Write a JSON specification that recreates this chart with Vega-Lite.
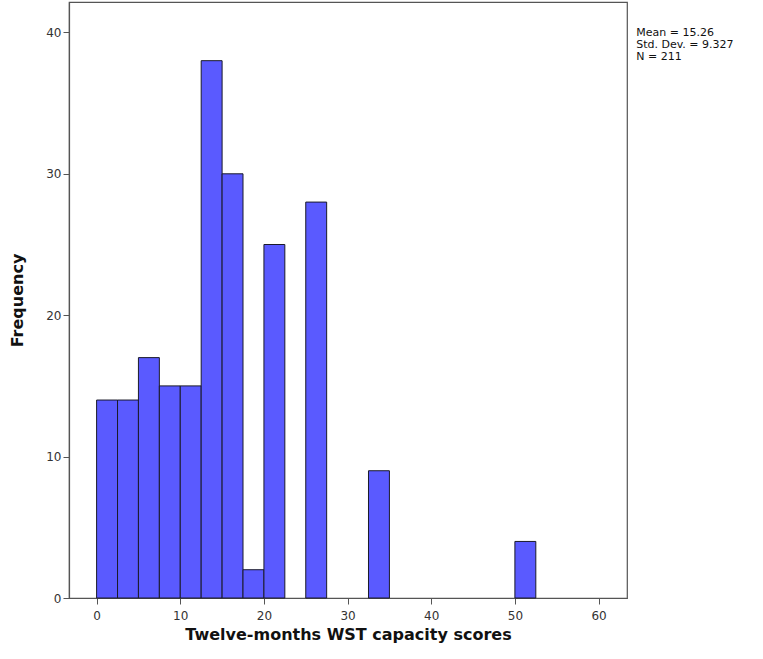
{
  "$schema": "https://vega.github.io/schema/vega-lite/v6.json",
  "width": 558,
  "height": 596,
  "padding": {"left": 69, "top": 2, "right": 136, "bottom": 61},
  "autosize": {"type": "none"},
  "config": {
    "view": {"stroke": "#555555", "strokeWidth": 1.2},
    "font": "DejaVu Sans",
    "axis": {"domainColor": "#555555", "tickColor": "#555555", "labelColor": "#333333", "labelFont": "DejaVu Sans", "labelFontSize": 12, "titleFont": "DejaVu Sans", "titleFontSize": 16, "titleFontWeight": "bold", "titleColor": "#111111", "grid": false, "tickSize": 6, "domainWidth": 1.2}
  },
  "layer": [
    {
      "data": {"values": [
        {"bin_start": 0, "bin_end": 2.5, "count": 14},
        {"bin_start": 2.5, "bin_end": 5, "count": 14},
        {"bin_start": 5, "bin_end": 7.5, "count": 17},
        {"bin_start": 7.5, "bin_end": 10, "count": 15},
        {"bin_start": 10, "bin_end": 12.5, "count": 15},
        {"bin_start": 12.5, "bin_end": 15, "count": 38},
        {"bin_start": 15, "bin_end": 17.5, "count": 30},
        {"bin_start": 17.5, "bin_end": 20, "count": 2},
        {"bin_start": 20, "bin_end": 22.5, "count": 25},
        {"bin_start": 25, "bin_end": 27.5, "count": 28},
        {"bin_start": 32.5, "bin_end": 35, "count": 9},
        {"bin_start": 50, "bin_end": 52.5, "count": 4}
      ]},
      "mark": {"type": "rect", "fill": "#5a5aff", "stroke": "#1a1a2a", "strokeWidth": 1},
      "encoding": {
        "x": {"field": "bin_start", "type": "quantitative", "scale": {"domain": [-3.3, 63.4], "nice": false, "zero": false},
              "axis": {"values": [0, 10, 20, 30, 40, 50, 60], "title": "Twelve-months WST capacity scores", "titlePadding": 5, "labelPadding": 6}},
        "x2": {"field": "bin_end"},
        "y": {"field": "count", "type": "quantitative", "scale": {"domain": [0, 42.15], "nice": false},
              "axis": {"values": [0, 10, 20, 30, 40], "title": "Frequency", "titlePadding": 20, "labelPadding": 2}},
        "y2": {"datum": 0}
      }
    },
    {
      "data": {"values": [
        {"x": 64.5, "y": 40.35, "label": "Mean = 15.26"},
        {"x": 64.5, "y": 39.5, "label": "Std. Dev. = 9.327"},
        {"x": 64.5, "y": 38.65, "label": "N = 211"}
      ]},
      "mark": {"type": "text", "align": "left", "baseline": "top", "fontSize": 11, "color": "#111111", "clip": false, "font": "DejaVu Sans"},
      "encoding": {
        "x": {"field": "x", "type": "quantitative"},
        "y": {"field": "y", "type": "quantitative"},
        "text": {"field": "label", "type": "nominal"}
      }
    }
  ]
}
